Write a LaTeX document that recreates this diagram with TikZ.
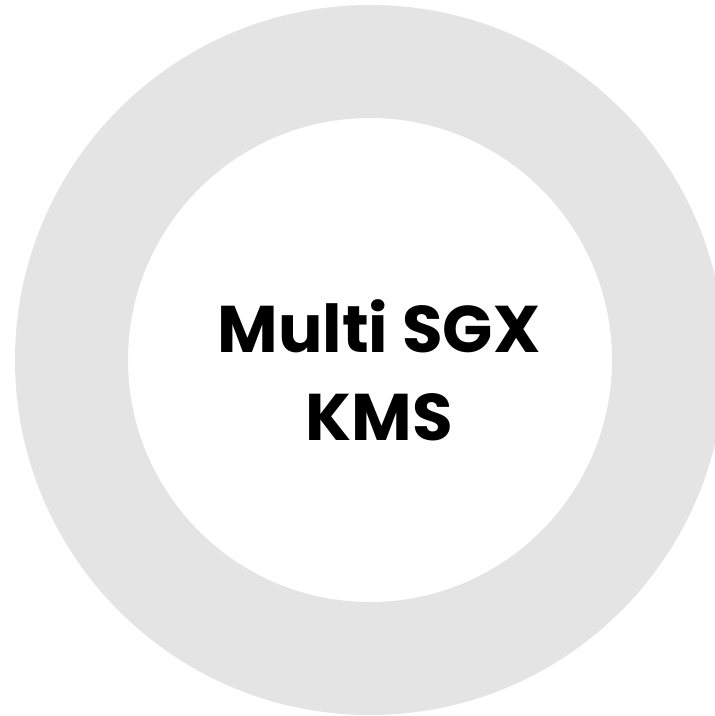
\documentclass[tikz,border=0pt]{standalone}
\usepackage{fontspec}
\setmainfont{Poppins}[BoldFont={Poppins Bold}]
\definecolor{ringgray}{HTML}{E4E4E4}
\begin{document}
\begin{tikzpicture}[x=1pt,y=-1pt,
  lbl/.style={font=\fontsize{66}{88}\selectfont\bfseries, align=center, inner sep=0pt}]
\useasboundingbox (0,0) rectangle (715,716);
\clip (0,0) rectangle (715,716);
\fill[ringgray, even odd rule] (370,360) circle[radius=355] (370,360) circle[radius=242];
\node[lbl, anchor=base] (t1) at (379,352) {Multi SGX};
\node[lbl, anchor=base] (t2) at (379,440) {KMS};
\end{tikzpicture}
\end{document}
